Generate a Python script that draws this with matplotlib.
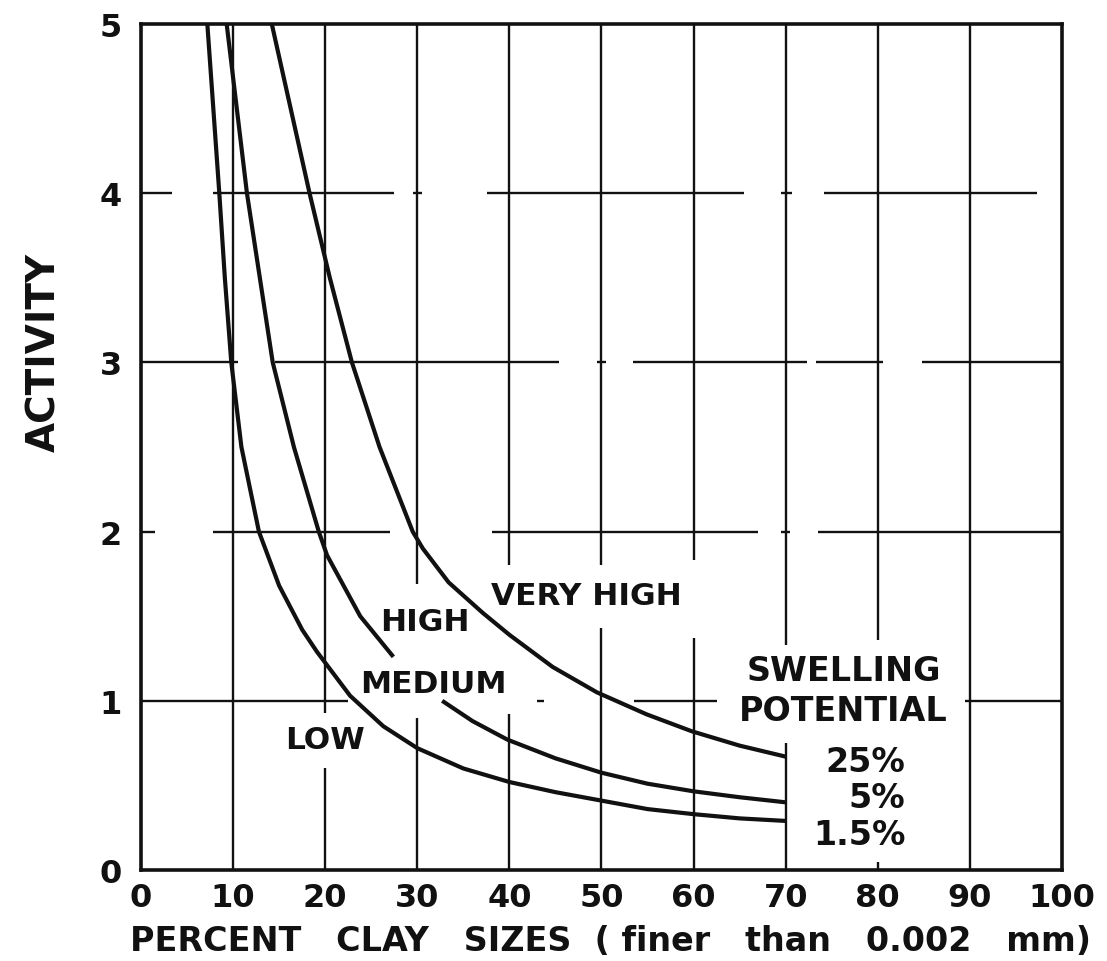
import numpy as np
import matplotlib

matplotlib.use("Agg")
import matplotlib.pyplot as plt

INK = "#111111"

# curves: percent clay (x) vs activity (y)
low_x = [7.2, 8.5, 9.1, 9.8, 10.9, 12.8, 15.0, 17.5, 19.1, 22.7, 26.3, 30.0, 35.0, 40.0, 45.0, 50.0, 55.0, 60.0, 65.0, 70.0]
low_y = [5.0, 4.0, 3.5, 3.0, 2.5, 2.0, 1.68, 1.42, 1.29, 1.03, 0.85, 0.72, 0.60, 0.52, 0.46, 0.41, 0.36, 0.33, 0.305, 0.29]

# medium curve is broken where the MEDIUM label sits
med_x = [9.3, 11.5, 14.3, 16.6, 19.3, 20.2, 23.8, 27.4, np.nan, 32.7, 36.0, 39.8, 45.0, 50.0, 55.0, 60.0, 65.0, 70.0]
med_y = [5.0, 4.0, 3.0, 2.5, 2.0, 1.86, 1.50, 1.26, np.nan, 1.00, 0.88, 0.77, 0.66, 0.575, 0.51, 0.465, 0.43, 0.40]

high_x = [14.2, 18.3, 20.5, 22.9, 25.9, 29.5, 30.6, 33.4, 37.1, 40.0, 44.7, 49.5, 54.9, 59.8, 65.0, 70.0]
high_y = [5.0, 4.0, 3.5, 3.0, 2.5, 2.0, 1.90, 1.70, 1.52, 1.39, 1.20, 1.05, 0.92, 0.82, 0.735, 0.67]

x_ticks = [0, 10, 20, 30, 40, 50, 60, 70, 80, 90, 100]
y_ticks = [0, 1, 2, 3, 4, 5]

zone_labels = ["LOW", "MEDIUM", "HIGH", "VERY HIGH"]
zone_pos = [(20.0, 0.77), (31.7, 1.10), (30.8, 1.47), (48.4, 1.62)]
swell_title = ["SWELLING", "POTENTIAL"]
swell_title_y = [1.18, 0.94]
swell_labels = ["25%", "5%", "1.5%"]
swell_y = [0.64, 0.43, 0.21]

# pieces of the hand drawn grid (gaps where the lettering / inking broke)
vgrid = {
    10: [(0, 5)],
    20: [(0, 0.6), (0.93, 5)],
    30: [(0, 0.9), (1.69, 5)],
    40: [(0, 0.92), (1.8, 5)],
    50: [(0, 1.43), (1.8, 5)],
    60: [(0, 1.37), (1.83, 5)],
    70: [(0, 0.75), (1.33, 5)],
    80: [(0, 0.05), (1.36, 5)],
    90: [(0, 5)],
}
hgrid = {
    1: [(0, 22.5), (43.0, 43.8), (53.5, 62.5), (89.5, 100)],
    2: [(0, 1.5), (7.8, 27.0), (38.1, 67.0), (69.5, 70.5), (73.5, 100)],
    3: [(0, 10.5), (14.5, 45.4), (49.5, 50.5), (53.4, 72.3), (73.3, 80.6), (84.8, 100)],
    4: [(0, 3.4), (7.8, 27.5), (29.5, 30.5), (37.6, 65.5), (69.5, 70.7), (74.2, 97.3)],
}

fig = plt.figure(figsize=(11.07, 9.62), dpi=100)
ax = fig.add_axes([0.1274, 0.0946, 0.8319, 0.8794])

for xv, segs in vgrid.items():
    for a, b in segs:
        ax.vlines(xv, a, b, color=INK, lw=1.7, zorder=1)
for yv, segs in hgrid.items():
    for a, b in segs:
        ax.hlines(yv, a, b, color=INK, lw=1.7, zorder=1)

for xs, ys in ((low_x, low_y), (med_x, med_y), (high_x, high_y)):
    ax.plot(xs, ys, color=INK, lw=3.0, solid_capstyle="butt", solid_joinstyle="round", zorder=3)

ax.set_xlim(0, 100)
ax.set_ylim(0, 5)
ax.set_xticks(x_ticks)
ax.set_yticks(y_ticks)
ax.set_xticklabels([str(v) for v in x_ticks])
ax.set_yticklabels([str(v) for v in y_ticks])
ax.tick_params(length=0, labelsize=23, colors=INK)
ax.tick_params(axis="x", pad=9)
ax.tick_params(axis="y", pad=14)
for lbl in ax.get_xticklabels() + ax.get_yticklabels():
    lbl.set_fontweight("bold")
for sp in ax.spines.values():
    sp.set_linewidth(2.6)
    sp.set_color(INK)

for txt, (x, y) in zip(zone_labels, zone_pos):
    ax.text(x, y, txt, ha="center", va="center", fontsize=22.5, fontweight="bold", color=INK, zorder=4)

for txt, y in zip(swell_title, swell_title_y):
    ax.text(76.3, y, txt, ha="center", va="center", fontsize=24, fontweight="bold", color=INK, zorder=4)
for txt, y in zip(swell_labels, swell_y):
    ax.text(83.0, y, txt, ha="right", va="center", fontsize=24, fontweight="bold", color=INK, zorder=4)

fig.text(44 / 1107, 1 - 352 / 962, "ACTIVITY", rotation=90, ha="center", va="center",
         fontsize=28, fontweight="bold", color=INK)
fig.text(611 / 1107, 1 - 942 / 962, "PERCENT   CLAY   SIZES  ( finer   than   0.002   mm)",
         ha="center", va="center", fontsize=24, fontweight="bold", color=INK)

fig.savefig("out.png", dpi=100, facecolor="white")
